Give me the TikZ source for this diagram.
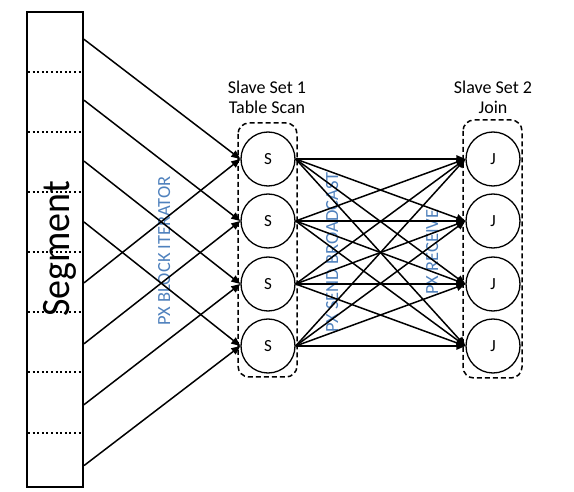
\documentclass[tikz,border=0pt]{standalone}
\usepackage{fontspec}
\setmainfont{Carlito}
\usetikzlibrary{arrows.meta}
\definecolor{pxblue}{RGB}{79,129,189}
\tikzset{
  proc/.style={draw, circle, line width=1.3pt, minimum size=54pt, inner sep=0pt, font=\fontsize{17}{18}\selectfont},
  grp/.style={draw, dashed, dash pattern=on 5pt off 3pt, line width=1.5pt, rounded corners=11pt},
  conn/.style={line width=1.5pt, -{Triangle[length=9pt,width=7.5pt]}},
  hdr/.style={align=center, font=\fontsize{18}{20}\selectfont},
  pxlbl/.style={text=pxblue, rotate=90, anchor=base, font=\fontsize{18.5}{20}\selectfont, inner sep=0pt},
  seglbl/.style={rotate=90, anchor=base, font=\fontsize{38}{40}\selectfont, inner sep=0pt, yscale=1.06},
  divider/.style={line width=2pt, dash pattern=on 2pt off 2.6pt}
}
\begin{document}
\begin{tikzpicture}[x=1pt,y=-1pt]
\useasboundingbox (0,0) rectangle (574,492);
% segment column
\draw[line width=2pt] (27,12) rectangle (83,487);
\foreach \yy in {72.5,132.5,192.5,252.5,312.5,372.5,432.5}
  \draw[divider] (28,\yy) -- (82,\yy);
\node[seglbl] (seg) at (69,249) {Segment};
% labels
\node[pxlbl] (pxblock) at (170,251) {PX BLOCK ITERATOR};
\node[pxlbl] (pxsend) at (338,252.5) {PX SEND BROADCAST};
\node[pxlbl] (pxrecv) at (438,252) {PX RECEIVE};
% groups
\draw[grp] (238,123) rectangle (297,377);
\draw[grp] (463,120) rectangle (522,378);
\node[hdr] (h1) at (267,97) {Slave Set 1\\Table Scan};
\node[hdr] (h2) at (493,97) {Slave Set 2\\Join};
% nodes
\foreach \i/\yy in {1/159,2/221,3/284,4/346} {
  \node[proc] (S\i) at (268,\yy) {S};
  \node[proc] (J\i) at (493,\yy) {J};
}
% segment start points
\foreach \k/\yy in {1/39.3,2/100.2,3/161.1,4/222,5/282.9,6/343.8,7/404.7,8/465.6}
  \coordinate (g\k) at (84,\yy);
\foreach \k in {1,2,3,4} {
  \draw[conn] (g\k) -- (S\k.west);
}
\draw[conn] (g5) -- (S1.west);
\draw[conn] (g6) -- (S2.west);
\draw[conn] (g7) -- (S3.west);
\draw[conn] (g8) -- (S4.west);
\foreach \a in {1,2,3,4}
  \foreach \b in {1,2,3,4}
    \draw[conn] (S\a.east) -- (J\b.west);
\end{tikzpicture}
\end{document}
